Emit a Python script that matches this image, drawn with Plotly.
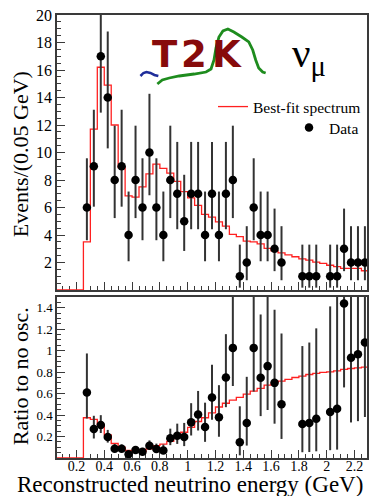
import plotly.graph_objects as go

# ---------------- data ----------------
bin_width = 0.05
lead_edges = [0.05, 0.10, 0.15, 0.20]          # empty bins before the spectrum starts
first_edge = 0.25
n_bins = 41

data_counts = [6, 9, 17, 14, 8, 9, 4, 8, 6, 10,
               6, 4, 8, 7, 5, 7, 7, 4, 7, 4,
               7, 8, 1, 2, 6, 4, 4, 3, 2, 0,
               0, 1, 1, 1, 0, 1, 1, 3, 2, 2,
               2]

best_fit = [3.5, 11.7, 16.2, 14.9, 12.0, 8.9, 6.85, 6.75, 7.5, 8.45,
            9.15, 8.85, 8.5, 7.9, 7.15, 6.7, 6.15, 5.5, 5.3, 4.95,
            4.65, 4.05, 3.88, 3.56, 3.5, 3.35, 3.03, 2.85, 2.7, 2.55,
            2.42, 2.27, 2.18, 2.03, 1.94, 1.8, 1.7, 1.58, 1.58, 1.58,
            1.4]

ratio_data = [0.61, 0.27, 0.307, 0.195, 0.087, 0.087, 0.034, 0.074, 0.059, 0.115,
              0.084, 0.07, 0.183, 0.208, 0.195, 0.332, 0.406, 0.288, 0.564, 0.379,
              0.75, 1.026, 0.146, 0.326, 1.026, 0.747, 0.856, 0.70, 0.50, None,
              None, 0.316, 0.326, 0.366, None, 0.428, 0.459, 1.44, 0.933, 0.967,
              1.076]

ratio_fit = [0.375, 0.36, 0.31, 0.215, 0.135, 0.10, 0.07, 0.06, 0.06, 0.085,
             0.115, 0.13, 0.155, 0.2, 0.24, 0.285, 0.34, 0.375, 0.42, 0.475,
             0.51, 0.54, 0.565, 0.595, 0.623, 0.648, 0.679, 0.70, 0.716, 0.732,
             0.75, 0.763, 0.778, 0.788, 0.797, 0.803, 0.812, 0.825, 0.834, 0.84,
             0.846]

# 68% Poisson interval (lower, upper) for each observed count
poisson_interval = {1: (0.17, 3.30), 2: (0.71, 4.64), 3: (1.37, 5.92), 4: (2.09, 7.16),
                    5: (2.84, 8.38), 6: (3.62, 9.58), 7: (4.42, 10.77), 8: (5.23, 11.95),
                    9: (6.06, 13.11), 10: (6.89, 14.27), 14: (10.3, 18.8), 17: (12.9, 22.1)}

x_ticks_lab = ["0.2", "0.4", "0.6", "0.8", "1", "1.2", "1.4", "1.6", "1.8", "2", "2.2"]

# ---------------- derived ----------------
edges = [round(first_edge + i * bin_width, 3) for i in range(n_bins + 1)]
centers = [round(e + bin_width / 2, 3) for e in edges[:-1]]
hist_x = lead_edges + edges
fit_y = [0.0] * len(lead_edges) + best_fit + [best_fit[-1]]
rfit_y = [0.0] * len(lead_edges) + ratio_fit + [ratio_fit[-1]]

px_, py_, eu, ed = [], [], [], []
rx, ry, reu, red_ = [], [], [], []
for c, n, r in zip(centers, data_counts, ratio_data):
    if n > 0:
        lo, hi = poisson_interval[n]
        px_.append(c); py_.append(n); eu.append(hi - n); ed.append(n - lo)
        rx.append(c); ry.append(r); reu.append(r * (hi - n) / n); red_.append(r * (n - lo) / n)

# ---------------- geometry ----------------
W, H = 372, 496
ML, MR, MT, MB = 57, 3, 15, 38
PW, PH = W - ML - MR, H - MT - MB


def pxx(x):
    return (x - ML) / PW


def pyy(y):
    return (H - MB - y) / PH


top_dom = [pyy(290), 1.0]
bot_dom = [0.0, pyy(297)]

FONT = "Liberation Serif"
FRAME = "#3a3a3a"
ERR = "#333333"

fig = go.Figure()

# top panel
fig.add_trace(go.Scatter(x=hist_x, y=fit_y, mode="lines", line=dict(color="#ff2020", width=1.3, shape="hv"),
                         name="Best-fit spectrum", xaxis="x", yaxis="y", legend="legend"))
fig.add_trace(go.Scatter(x=px_, y=py_, mode="markers", name="Data",
                         marker=dict(color="black", size=8.5),
                         error_y=dict(type="data", symmetric=False, array=eu, arrayminus=ed,
                                      thickness=2, width=0, color=ERR),
                         xaxis="x", yaxis="y", legend="legend2"))
# bottom panel
fig.add_trace(go.Scatter(x=hist_x, y=rfit_y, mode="lines", line=dict(color="#ff2020", width=1.3, shape="hv"),
                         showlegend=False, xaxis="x2", yaxis="y2"))
fig.add_trace(go.Scatter(x=rx, y=ry, mode="markers", showlegend=False,
                         marker=dict(color="black", size=8.5),
                         error_y=dict(type="data", symmetric=False, array=reu, arrayminus=red_,
                                      thickness=2, width=0, color=ERR),
                         xaxis="x2", yaxis="y2"))

xr = [0.06, 2.29]
common_x = dict(range=xr, showline=True, mirror=True, linecolor=FRAME, linewidth=1.5,
                ticks="inside", ticklen=8, tickwidth=1, tickcolor=FRAME,
                tickmode="array", tickvals=[float(t) for t in x_ticks_lab],
                minor=dict(dtick=0.05, tick0=0, ticks="inside", ticklen=4, tickcolor=FRAME),
                showgrid=False, zeroline=False, layer="below traces")
fig.update_layout(
    width=W, height=H, margin=dict(l=ML, r=MR, t=MT, b=MB),
    paper_bgcolor="white", plot_bgcolor="white", hovermode=False,
    font=dict(family=FONT, color="black"),
    xaxis=dict(domain=[0, 1], anchor="y", showticklabels=False, **common_x),
    xaxis2=dict(domain=[0, 1], anchor="y2", matches="x", ticktext=x_ticks_lab,
                tickfont=dict(size=14, family=FONT), ticklabelstandoff=-6, **common_x),
    yaxis=dict(domain=top_dom, anchor="x", range=[0, 20], showline=True, mirror=True,
               linecolor=FRAME, linewidth=1.5, ticks="inside", ticklen=8, tickcolor=FRAME,
               tickvals=[2, 4, 6, 8, 10, 12, 14, 16, 18, 20],
               minor=dict(dtick=0.5, ticks="inside", ticklen=4, tickcolor=FRAME),
               tickfont=dict(size=16, family=FONT), showgrid=False, zeroline=False),
    yaxis2=dict(domain=bot_dom, anchor="x2", range=[0, 1.5], showline=True, mirror=True,
                linecolor=FRAME, linewidth=1.5, ticks="inside", ticklen=8, tickcolor=FRAME,
                tickvals=[0.2, 0.4, 0.6, 0.8, 1.0, 1.2, 1.4],
                minor=dict(dtick=0.05, ticks="inside", ticklen=4, tickcolor=FRAME),
                tickfont=dict(size=13, family=FONT), showgrid=False, zeroline=False),
    legend=dict(x=pxx(368), y=pyy(107), xanchor="right", yanchor="middle",
                bgcolor="rgba(0,0,0,0)", font=dict(size=15.5, family=FONT)),
    legend2=dict(x=pxx(366), y=pyy(128), xanchor="right", yanchor="middle",
                 bgcolor="rgba(0,0,0,0)", font=dict(size=15.5, family=FONT)),
    showlegend=True,
)

ann = []


def add_text(text, x, y, size, family=FONT, color="black", angle=0):
    ann.append(dict(text=text, x=pxx(x), y=pyy(y), xref="paper", yref="paper",
                    xanchor="center", yanchor="middle", textangle=angle, showarrow=False,
                    font=dict(size=size, family=family, color=color)))


add_text("Events/(0.05 GeV)", 20, 154, 22, angle=-90)
add_text("Ratio to no osc.", 20, 376, 22, angle=-90)
add_text("Reconstructed neutrino energy (GeV)", 191, 484, 23)
# logo letters
for ch, cx in (("T", 166), ("2", 195), ("K", 228)):
    add_text("<b>%s</b>" % ch, cx, 55, 37, family="DejaVu Sans", color="#870b0b")
add_text("ν<sub>μ</sub>", 311, 56, 41)
fig.update_layout(annotations=ann)


def path_from(pts):
    return "M " + " L ".join("%.4f,%.4f" % (pxx(a), pyy(b)) for a, b in pts)


green_pts = [(158, 84), (163, 80), (170, 78), (180, 76), (195, 74), (207, 72), (212, 69), (215, 60),
             (217, 48), (220, 37), (224, 31), (229, 29), (235, 32), (243, 37), (250, 42), (254, 50),
             (257, 60), (260, 68), (264, 72), (267, 73)]
blue_pts = [(141, 76), (144, 73), (147, 72), (151, 73), (155, 75), (159, 76)]
fig.update_layout(shapes=[
    dict(type="path", path=path_from(blue_pts), xref="paper", yref="paper",
         line=dict(color="#1f2d9a", width=2.5)),
    dict(type="path", path=path_from(green_pts), xref="paper", yref="paper",
         line=dict(color="#1e8c1e", width=2.8)),
])

fig.write_html("out.html", config={"displayModeBar": False},
               post_script="document.body.style.margin='0px';")
